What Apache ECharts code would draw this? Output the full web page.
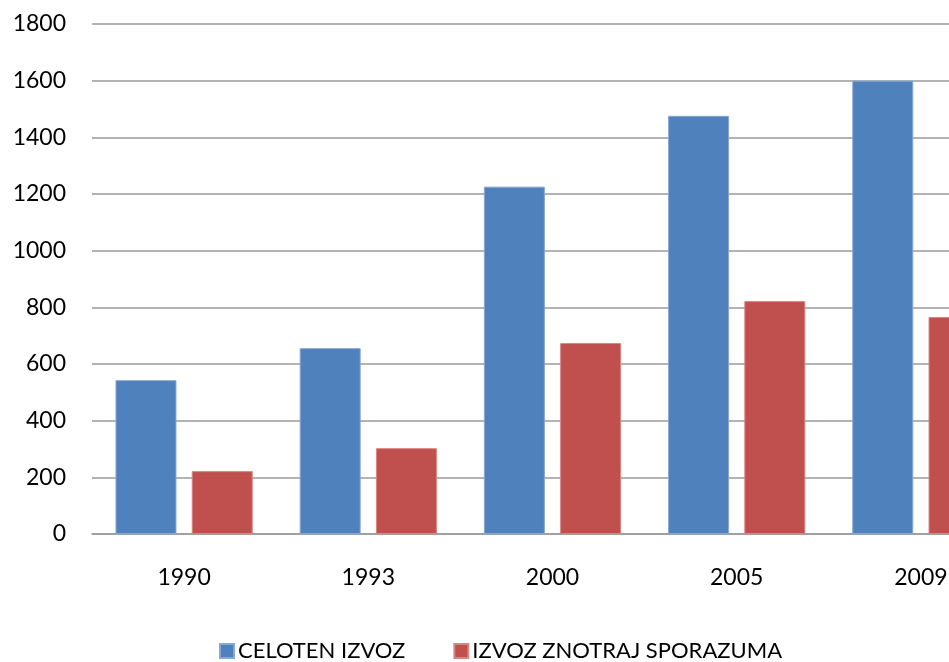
<!DOCTYPE html>
<html>
<head>
<meta charset="utf-8">
<script src="https://cdn.jsdelivr.net/npm/echarts@6/dist/echarts.min.js"></script>
<style>
  html, body { margin: 0; padding: 0; background: #fff; overflow: hidden; width: 949px; height: 662px; }
  /* graf je na desni odrezan: platno je sirse od okna */
  #chart { width: 1013px; height: 662px; }
</style>
</head>
<body>
<div id="chart"></div>
<script>
// podatki
const years = ['1990', '1993', '2000', '2005', '2009'];
const celotenIzvoz = [543, 656, 1226, 1476, 1600];
const izvozSporazum = [222, 303, 674, 822, 766];
const yTicks = [0, 200, 400, 600, 800, 1000, 1200, 1400, 1600, 1800];

const chart = echarts.init(document.getElementById('chart'));
const font = 'Lato';

chart.setOption({
  animation: false,
  backgroundColor: '#fff',
  textStyle: { fontFamily: font },
  grid: { left: 92, top: 24, right: 0, bottom: 128 },
  legend: {
    left: 214,
    top: 635,
    itemWidth: 14,
    itemHeight: 14,
    itemGap: 48,
    icon: 'rect',
    textStyle: { fontFamily: font, fontSize: 22, color: '#000', padding: [0, 0, 0, -1] },
    data: ['CELOTEN IZVOZ', 'IZVOZ ZNOTRAJ SPORAZUMA']
  },
  xAxis: {
    type: 'category',
    data: years,
    axisLine: { lineStyle: { color: '#9a9a9a', width: 1.5 } },
    axisTick: { show: false },
    axisLabel: { fontFamily: font, fontSize: 23, color: '#000', margin: 32 }
  },
  yAxis: {
    type: 'value',
    min: yTicks[0],
    max: yTicks[yTicks.length - 1],
    interval: 200,
    axisLine: { show: false },
    axisTick: { show: false },
    splitLine: { lineStyle: { color: '#9a9a9a', width: 1.5 } },
    axisLabel: { fontFamily: font, fontSize: 23, color: '#000', margin: 26, formatter: v => String(v) }
  },
  series: [
    {
      name: 'CELOTEN IZVOZ',
      type: 'bar',
      data: celotenIzvoz,
      barWidth: 61,
      barGap: '25%',
      itemStyle: { color: '#4F81BD', borderColor: '#86a8d4', borderWidth: 1 }
    },
    {
      name: 'IZVOZ ZNOTRAJ SPORAZUMA',
      type: 'bar',
      data: izvozSporazum,
      barWidth: 61,
      barGap: '25%',
      itemStyle: { color: '#C0504D', borderColor: '#d98583', borderWidth: 1 }
    }
  ]
});
</script>
</body>
</html>
